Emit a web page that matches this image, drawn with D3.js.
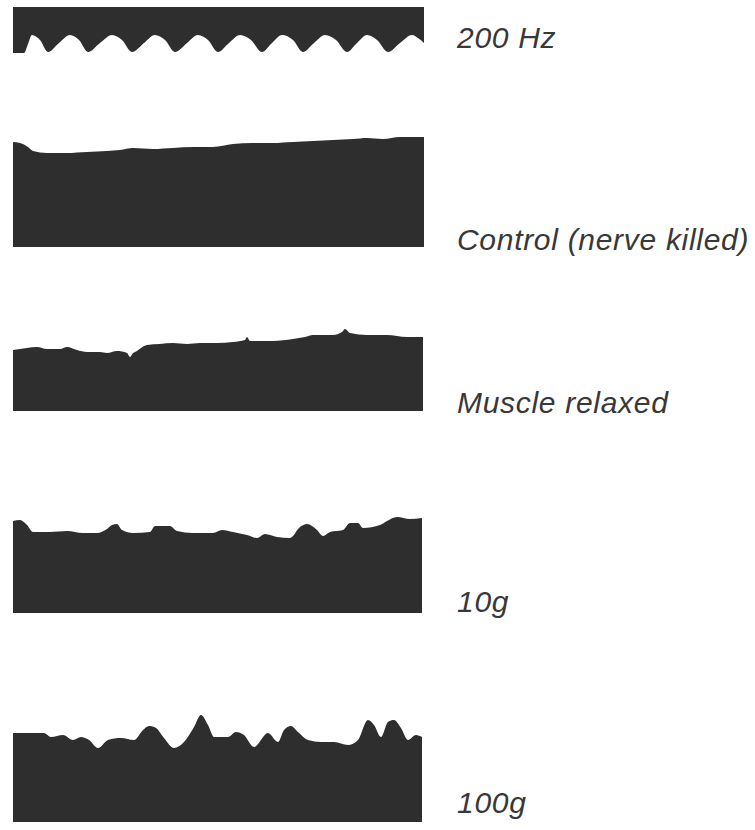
<!DOCTYPE html>
<html>
<head>
<meta charset="utf-8">
<script src="https://cdn.jsdelivr.net/npm/d3@7"></script>
<style>
  body { margin: 0; background: #fff; }
</style>
</head>
<body>
<svg id="chart" width="755" height="830"></svg>
<script>
const width = 755;
const height = 830;

// trace labels, top to bottom
const labels = ["200 Hz", "Control (nerve killed)", "Muscle relaxed", "10g", "100g"];

// 200 Hz time marker: [time, depth of the lower edge below the top line]
const timeMarker = [
  [0, 46], [11, 46], [15, 37], [19, 28], [27, 33], [35, 45], [46, 36], [57, 28], [66, 33],
  [75, 45], [87, 36], [99, 28], [109, 33], [119, 45], [131, 36], [142, 28], [152, 33],
  [162, 45], [174, 36], [185, 28], [195, 33], [205, 45], [216, 36], [227, 28], [238, 33],
  [249, 45], [259, 36], [269, 28], [280, 33], [290, 45], [301, 36], [312, 28], [323, 33],
  [334, 45], [344, 36], [354, 28], [364, 33], [375, 45], [387, 36], [399, 28], [405, 31],
  [411, 36]
];

// muscle traces: [time, height of the upper edge]
const control = [
  [0, 105], [7, 104], [15, 100], [20, 96], [34, 94], [54, 94], [74, 95], [94, 96],
  [107, 97], [120, 99], [140, 98], [160, 99], [180, 100], [200, 100], [220, 103],
  [240, 104], [260, 104], [280, 105], [300, 106], [320, 107], [340, 108], [354, 109],
  [370, 108], [387, 110], [411, 110]
];

const relaxed = [
  [0, 61], [14, 63], [24, 64], [34, 62], [47, 62], [54, 64], [64, 61], [74, 59], [87, 59],
  [94, 58], [104, 60], [114, 58], [117, 54], [120, 58], [122, 59], [134, 66], [147, 67],
  [160, 68], [174, 67], [187, 68], [204, 68], [220, 69], [232, 71], [234, 74], [237, 70],
  [260, 70], [280, 72], [292, 74], [300, 76], [320, 76], [329, 79], [332, 82], [337, 78],
  [354, 76], [374, 76], [394, 74], [410, 74]
];

const load10 = [
  [0, 92], [7, 93], [14, 88], [20, 81], [37, 81], [54, 82], [70, 80], [84, 80], [94, 84],
  [99, 88], [104, 89], [109, 83], [120, 80], [137, 81], [142, 87], [157, 87], [164, 82],
  [180, 80], [200, 80], [209, 83], [220, 81], [234, 78], [244, 75], [252, 79], [264, 76],
  [277, 75], [287, 86], [294, 89], [304, 83], [310, 77], [317, 81], [330, 83], [337, 90],
  [345, 90], [350, 85], [367, 88], [374, 92], [384, 96], [397, 94], [409, 95]
];

const load100 = [
  [0, 89], [31, 89], [38, 85], [50, 87], [60, 82], [68, 85], [76, 82], [85, 74], [95, 82],
  [108, 84], [121, 82], [130, 92], [136, 96], [143, 94], [151, 84], [161, 74], [171, 80],
  [181, 95], [188, 107], [195, 97], [201, 85], [215, 85], [223, 90], [231, 87], [241, 75],
  [255, 89], [265, 80], [271, 92], [278, 96], [285, 90], [295, 82], [308, 80], [321, 80],
  [335, 77], [345, 82], [355, 102], [361, 97], [368, 85], [375, 100], [381, 102],
  [388, 94], [395, 82], [403, 87], [409, 85]
];

const traces = [control, relaxed, load10, load100];

// layout: bottom line of each muscle trace and label baselines
const traceBottoms = [247, 411, 613, 822];
const labelBaselines = [48, 250, 413, 612, 813];

const svg = d3.select("#chart");

const ink = "#2e2e2e";

const defs = svg.append("defs");
defs.append("filter")
  .attr("id", "soft")
  .append("feGaussianBlur")
  .attr("stdDeviation", 0.5);

const x = d3.scaleLinear()
  .domain([0, 411])
  .range([13, 424]);

// 200 Hz marker: dark band hanging from a straight top line
const depth = d3.scaleLinear()
  .domain([0, 46])
  .range([7, 53]);

const markerArea = d3.area()
  .x(d => x(d[0]))
  .y0(depth(0))
  .y1(d => depth(d[1]))
  .curve(d3.curveMonotoneX);

svg.append("path")
  .datum(timeMarker)
  .attr("fill", ink)
  .attr("filter", "url(#soft)")
  .attr("d", markerArea);

// muscle traces: filled from the bottom line up to the jagged edge
traces.forEach((trace, i) => {
  const y = d3.scaleLinear()
    .domain([0, 120])
    .range([traceBottoms[i], traceBottoms[i] - 120]);

  const area = d3.area()
    .x(d => x(d[0]))
    .y0(y(0))
    .y1(d => y(d[1]))
    .curve(d3.curveMonotoneX);

  svg.append("path")
    .datum(trace)
    .attr("fill", ink)
    .attr("filter", "url(#soft)")
    .attr("d", area);
});

// labels
svg.selectAll("text.label")
  .data(labels)
  .join("text")
  .attr("class", "label")
  .attr("x", 457)
  .attr("y", (d, i) => labelBaselines[i])
  .attr("font-family", "'Liberation Sans', Arial, sans-serif")
  .attr("font-style", "italic")
  .attr("font-size", 30)
  .attr("letter-spacing", 0.7)
  .attr("fill", "#383838")
  .text(d => d);
</script>
</body>
</html>
